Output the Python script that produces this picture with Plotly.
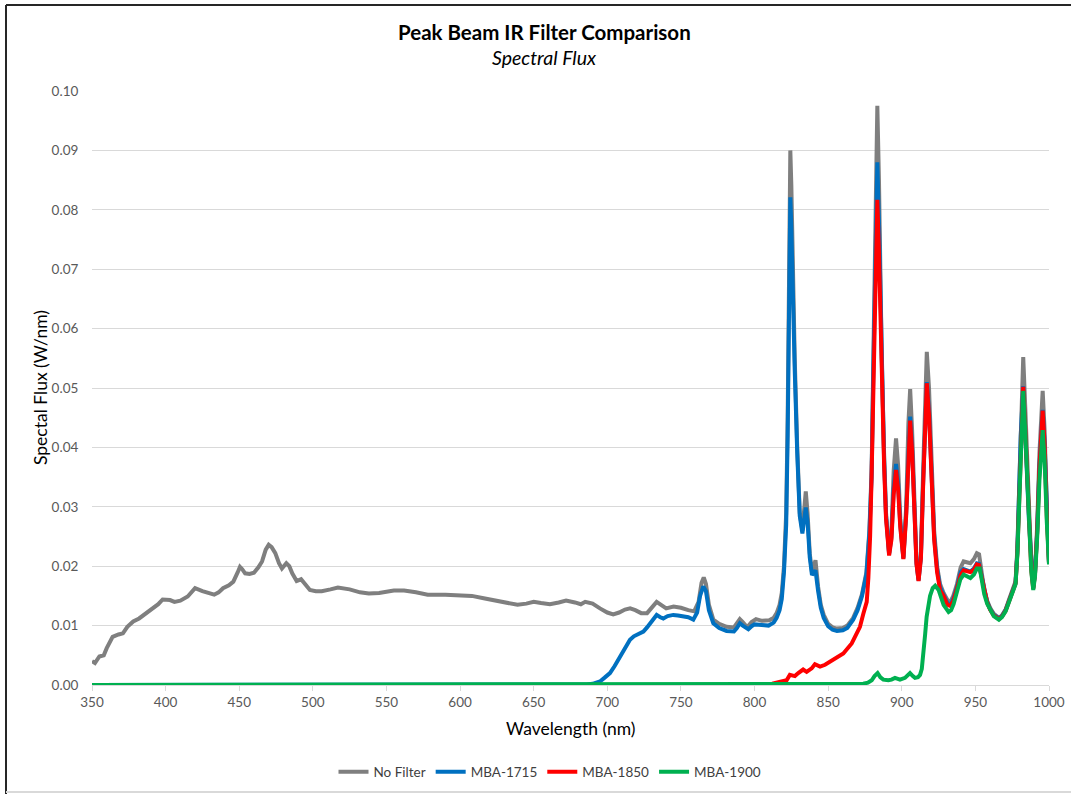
import plotly.graph_objects as go

# ---------------- data ----------------
nf_wl = [350, 352, 355, 358, 360, 364, 368, 371, 374, 378, 382, 387, 391, 395, 398, 403, 406, 410, 415, 420,
         425, 430, 433, 436, 439, 443, 446, 449, 450.5, 452, 454, 457, 460, 463, 465.5, 468, 470, 472, 474.5, 477,
         479, 482, 484, 486, 489, 492, 495, 498, 502, 506, 512, 517, 525, 532, 538, 545, 555, 562, 570, 578,
         590, 600, 608, 616, 625, 632, 639, 645, 650, 655, 661, 667, 672, 678, 682, 685, 690, 695, 700, 704,
         708, 712, 715.5, 719, 723, 727, 730, 733.5, 737, 740, 745, 750, 755, 759, 762, 764, 765.5, 767, 769, 772,
         776, 781, 786, 788, 790, 792, 795, 798, 801, 805, 810, 813, 815, 817, 818.5, 820, 821.5, 822.5, 823.5, 824.3,
         825, 826, 827.3, 829, 830.7, 832.5, 834.8, 836, 837.5, 839, 841.4, 843.2, 845, 847, 850, 853, 856, 860,
         863, 867, 870, 873, 876, 878, 879.5, 880.7, 882, 883.4, 884.5, 885.5, 886.4, 888, 889.3, 891.4, 893, 894.5,
         896.1, 897.5, 899, 901.1, 903, 904.5, 905.7, 907, 908.5, 910, 911.4, 913, 914.5, 916, 917, 918.5, 920, 922,
         924, 926, 928.4, 931, 933, 935, 937.5, 940, 942, 944, 946.6, 949, 951, 952.5, 954.5, 956, 958, 960,
         962.5, 966, 968, 970.5, 973, 975, 977.3, 978.5, 979.5, 980.8, 982.5, 984, 985.3, 986.4, 988, 989.3, 990.5, 992,
         993.5, 995.7, 997, 998.5, 1000]
nf_val = [0.0040, 0.0037, 0.0048, 0.0050, 0.0062, 0.0081, 0.0085, 0.0087, 0.0098, 0.0107, 0.0112, 0.0121, 0.0129, 0.0136, 0.0144, 0.0143, 0.0140, 0.0142, 0.0149, 0.0163,
          0.0158, 0.0155, 0.0152, 0.0156, 0.0163, 0.0168, 0.0174, 0.0190, 0.0199, 0.0195, 0.0188, 0.0187, 0.0189, 0.0198, 0.0208, 0.0228, 0.0236, 0.0232, 0.0222, 0.0205,
          0.0196, 0.0205, 0.0200, 0.0188, 0.0175, 0.0178, 0.0168, 0.0160, 0.0158, 0.0158, 0.0161, 0.0164, 0.0161, 0.0156, 0.0154, 0.0155, 0.0159, 0.0159, 0.0156, 0.0152,
          0.0152, 0.0151, 0.0150, 0.0146, 0.0142, 0.0138, 0.0135, 0.0137, 0.0140, 0.0138, 0.0136, 0.0139, 0.0142, 0.0139, 0.0136, 0.0140, 0.0137, 0.0129, 0.0122, 0.0119,
          0.0122, 0.0127, 0.0129, 0.0126, 0.0121, 0.0121, 0.0130, 0.0140, 0.0134, 0.0129, 0.0132, 0.0130, 0.0126, 0.0124, 0.0140, 0.0172, 0.0181, 0.0170, 0.0135, 0.0110,
          0.0103, 0.0098, 0.0097, 0.0103, 0.0111, 0.0106, 0.0097, 0.0106, 0.0111, 0.0108, 0.0109, 0.0113, 0.0121, 0.0135, 0.0155, 0.0200, 0.0290, 0.0450, 0.0700, 0.0900,
          0.0840, 0.0680, 0.0550, 0.0400, 0.0290, 0.0260, 0.0326, 0.0290, 0.0222, 0.0190, 0.0210, 0.0165, 0.0135, 0.0118, 0.0103, 0.0097, 0.0095, 0.0096,
          0.0100, 0.0113, 0.0130, 0.0153, 0.0190, 0.0260, 0.0360, 0.0550, 0.0800, 0.0975, 0.0850, 0.0680, 0.0550, 0.0390, 0.0290, 0.0222, 0.0260, 0.0360,
          0.0415, 0.0370, 0.0280, 0.0215, 0.0300, 0.0440, 0.0498, 0.0430, 0.0300, 0.0210, 0.0178, 0.0220, 0.0360, 0.0520, 0.0561, 0.0500, 0.0380, 0.0260,
          0.0200, 0.0170, 0.0155, 0.0143, 0.0140, 0.0150, 0.0170, 0.0198, 0.0208, 0.0207, 0.0205, 0.0212, 0.0222, 0.0220, 0.0185, 0.0160, 0.0142, 0.0130,
          0.0120, 0.0113, 0.0117, 0.0127, 0.0145, 0.0160, 0.0175, 0.0230, 0.0320, 0.0450, 0.0552, 0.0460, 0.0360, 0.0286, 0.0200, 0.0165, 0.0190, 0.0270,
          0.0390, 0.0495, 0.0430, 0.0300, 0.0206]

b_wl = [350, 680, 686, 690, 695, 698, 701.8, 705, 708.6, 712, 715.4, 718, 720, 722, 724.5, 727, 729, 731.5, 733.5, 736,
        738, 741, 744.8, 748, 751.6, 755, 758.4, 761, 763, 765.2, 767, 769, 772, 776, 781, 786, 788, 790, 792, 795.8,
        798, 800, 805, 809.5, 813, 815, 817, 818.5, 820, 821.5, 822.5, 823.5, 824.3, 825, 826, 827.3, 829, 830.7, 832.5, 834.8,
        836, 837.5, 839, 841.4, 843.2, 845, 847, 850, 853, 856, 860, 863, 867, 870, 873, 876, 878, 879.5, 880.7, 882,
        883.4, 884.5, 885.5, 886.4, 888, 889.3, 891.4, 893, 894.5, 896.1, 897.5, 899, 901.1, 903, 904.5, 905.7, 907, 908.5, 910, 911.4,
        913, 914.5, 916, 917, 918.5, 920, 922, 924, 926, 928.4, 931, 933, 935, 937.5, 940, 942, 944, 946.6, 949, 951,
        952.5, 954.5, 956, 958, 960, 962.5, 966, 968, 970.5, 973, 975, 977.3, 978.5, 979.5, 980.8, 982.5, 984, 985.3, 986.4, 988,
        989.3, 990.5, 992, 993.5, 995.7, 997, 998.5, 1000]
b_val = [0.0, 0.0, 0.0001, 0.0002, 0.0006, 0.0012, 0.0020, 0.0032, 0.0048, 0.0062, 0.0076, 0.0082, 0.0084, 0.0086, 0.0090, 0.0097, 0.0104, 0.0112, 0.0118, 0.0114,
         0.0112, 0.0116, 0.0118, 0.0117, 0.0116, 0.0114, 0.0110, 0.0122, 0.0150, 0.0166, 0.0158, 0.0126, 0.0104, 0.0096, 0.0091, 0.0090, 0.0096, 0.0104, 0.0100, 0.0094,
         0.0099, 0.0102, 0.0101, 0.0100, 0.0105, 0.0113, 0.0126, 0.0145, 0.0190, 0.0270, 0.0420, 0.0650, 0.0821, 0.0770, 0.0640, 0.0530, 0.0390, 0.0285, 0.0255, 0.0299,
         0.0275, 0.0215, 0.0185, 0.0193, 0.0158, 0.0130, 0.0113, 0.0099, 0.0093, 0.0091, 0.0092, 0.0096, 0.0110, 0.0126, 0.0150, 0.0186, 0.0255, 0.0350, 0.0530, 0.0740,
         0.0880, 0.0780, 0.0640, 0.0530, 0.0380, 0.0285, 0.0220, 0.0250, 0.0330, 0.0372, 0.0340, 0.0270, 0.0213, 0.0290, 0.0410, 0.0452, 0.0400, 0.0290, 0.0205, 0.0176,
         0.0215, 0.0340, 0.0475, 0.0510, 0.0460, 0.0360, 0.0250, 0.0195, 0.0165, 0.0152, 0.0138, 0.0135, 0.0145, 0.0165, 0.0190, 0.0195, 0.0193, 0.0191, 0.0196, 0.0205,
         0.0204, 0.0180, 0.0157, 0.0140, 0.0128, 0.0118, 0.0112, 0.0116, 0.0126, 0.0143, 0.0158, 0.0172, 0.0225, 0.0310, 0.0420, 0.0503, 0.0430, 0.0340, 0.0275, 0.0195,
         0.0163, 0.0188, 0.0260, 0.0370, 0.0463, 0.0410, 0.0290, 0.0205]

r_wl = [350, 800, 812, 817.3, 820, 821.8, 824, 827.4, 829.7, 833, 835.4, 838.8, 841, 844.5, 847.9, 853.5, 860.3, 866, 869.3, 871.6,
        873.9, 876.2, 877.3, 878.5, 879.5, 880.7, 882, 883.4, 884.5, 885.5, 886.4, 888, 889.3, 891.4, 893, 894.5, 896.1, 897.5, 899, 901.1,
        903, 904.5, 905.7, 907, 908.5, 910, 911.4, 913, 914.5, 916, 917, 918.5, 920, 922, 924, 926, 928.4, 931, 933, 935,
        937.5, 940, 942, 944, 946.6, 949, 951, 952.5, 954.5, 956, 958, 960, 962.5, 966, 968, 970.5, 973, 975, 977.3, 978.5,
        979.5, 980.8, 982.5, 984, 985.3, 986.4, 988, 989.3, 990.5, 992, 993.5, 995.7, 997, 998.5, 1000]
r_val = [0.0, 0.0, 0.0002, 0.0005, 0.0006, 0.0008, 0.0017, 0.0015, 0.0020, 0.0026, 0.0022, 0.0028, 0.0035, 0.0031, 0.0034, 0.0042, 0.0053, 0.0070, 0.0086, 0.0098,
         0.0120, 0.0140, 0.0180, 0.0250, 0.0350, 0.0510, 0.0700, 0.0817, 0.0730, 0.0610, 0.0520, 0.0370, 0.0280, 0.0218, 0.0245, 0.0320, 0.0362, 0.0330, 0.0265, 0.0212,
         0.0285, 0.0400, 0.0445, 0.0395, 0.0285, 0.0203, 0.0175, 0.0213, 0.0335, 0.0470, 0.0508, 0.0455, 0.0355, 0.0245, 0.0190, 0.0160, 0.0150, 0.0135, 0.0133, 0.0142,
         0.0162, 0.0185, 0.0193, 0.0191, 0.0190, 0.0194, 0.0203, 0.0202, 0.0178, 0.0155, 0.0139, 0.0127, 0.0117, 0.0111, 0.0115, 0.0125, 0.0142, 0.0157, 0.0171, 0.0222,
         0.0305, 0.0415, 0.0502, 0.0425, 0.0335, 0.0272, 0.0193, 0.0162, 0.0187, 0.0258, 0.0365, 0.0462, 0.0405, 0.0285, 0.0205]

g_wl = [350, 870, 873.9, 877, 879.6, 881.5, 883.6, 885.5, 887.5, 890.9, 893, 895.4, 898.8, 902.2, 905.6, 907.5, 909, 911, 912.4, 913.6,
        914.6, 915.9, 916.9, 919.2, 921, 922.7, 925, 926.5, 928.4, 931.8, 933.5, 935.2, 937.5, 939.8, 942, 944, 946.6, 949, 951, 953,
        954.5, 956, 958, 960, 962.5, 966, 968, 970.5, 973, 975, 977.3, 978.5, 979.5, 980.8, 982.5, 984, 985.3, 986.4, 988, 989.3,
        990.5, 992, 993.5, 995.7, 997, 998.5, 1000]
g_val = [0.0, 0.0001, 0.0002, 0.0004, 0.0008, 0.0015, 0.0020, 0.0013, 0.0009, 0.0008, 0.0009, 0.0012, 0.0009, 0.0012, 0.0020, 0.0015, 0.0012, 0.0013, 0.0017, 0.0027,
         0.0048, 0.0086, 0.0115, 0.0150, 0.0163, 0.0167, 0.0160, 0.0148, 0.0135, 0.0123, 0.0126, 0.0136, 0.0155, 0.0178, 0.0186, 0.0184, 0.0180, 0.0186, 0.0196, 0.0196,
         0.0175, 0.0153, 0.0137, 0.0126, 0.0116, 0.0110, 0.0114, 0.0124, 0.0141, 0.0156, 0.0170, 0.0220, 0.0300, 0.0410, 0.0495, 0.0420, 0.0330, 0.0268, 0.0190, 0.0160,
         0.0183, 0.0250, 0.0345, 0.0429, 0.0380, 0.0275, 0.0203]

series = [
    ("No Filter", nf_wl, nf_val, "#7f7f7f"),
    ("MBA-1715", b_wl, b_val, "#0070c0"),
    ("MBA-1850", r_wl, r_val, "#ff0000"),
    ("MBA-1900", g_wl, g_val, "#00b050"),
]

x_ticks = [350, 400, 450, 500, 550, 600, 650, 700, 750, 800, 850, 900, 950, 1000]
y_ticks = [0.00, 0.01, 0.02, 0.03, 0.04, 0.05, 0.06, 0.07, 0.08, 0.09, 0.10]

# ---------------- figure ----------------
FONT = "Lato, 'Open Sans', sans-serif"
fig = go.Figure()
for name, xs, ys, col in series:
    fig.add_trace(go.Scatter(x=xs, y=ys, name=name, mode="lines",
                             line=dict(color=col, width=4), hoverinfo="x+y+name"))

L, R, T, B = 92, 22, 91, 109
W, H = 1071, 794
pw, ph = W - L - R, H - T - B

def px(x):
    return (x - L) / pw

def py(y):
    return (H - B - y) / ph

fig.update_layout(
    width=W, height=H,
    margin=dict(l=L, r=R, t=T, b=B, autoexpand=False),
    paper_bgcolor="white", plot_bgcolor="white",
    font=dict(family=FONT, color="#595959", size=13),
    showlegend=True,
    legend=dict(orientation="h", x=px(550), xanchor="center", y=py(772), yanchor="middle",
                font=dict(size=13.5, color="#404040"), itemwidth=30, tracegroupgap=0,
                bgcolor="rgba(0,0,0,0)"),
    xaxis=dict(range=[350, 1000], tickvals=x_ticks, ticktext=[str(v) for v in x_ticks],
               showgrid=False, zeroline=False, showline=True, linecolor="#d9d9d9", linewidth=1,
               ticks="outside", ticklen=5, tickcolor="#d9d9d9",
               tickfont=dict(size=13.5, color="#595959")),
    yaxis=dict(range=[0, 0.1], tickvals=y_ticks, ticktext=[f"{v:.2f}" for v in y_ticks],
               showgrid=True, gridcolor="#d9d9d9", gridwidth=1, zeroline=False,
               ticks="outside", ticklen=10, tickcolor="rgba(0,0,0,0)",
               tickfont=dict(size=13.5, color="#595959")),
    annotations=[
        dict(text="<b>Peak Beam IR Filter Comparison</b>", xref="paper", yref="paper",
             x=px(544), y=py(32), xanchor="center", yanchor="middle", showarrow=False,
             font=dict(size=20.5, color="#000000", family=FONT)),
        dict(text="<i>Spectral Flux</i>", xref="paper", yref="paper",
             x=px(544), y=py(58), xanchor="center", yanchor="middle", showarrow=False,
             font=dict(size=19.5, color="#000000", family=FONT)),
        dict(text="Wavelength (nm)", xref="paper", yref="paper",
             x=px(570), y=py(728), xanchor="center", yanchor="middle", showarrow=False,
             font=dict(size=17.5, color="#000000", family=FONT)),
        dict(text="Spectal Flux (W/nm)", xref="paper", yref="paper", textangle=-90,
             x=px(40), y=py(388), xanchor="center", yanchor="middle", showarrow=False,
             font=dict(size=17.5, color="#000000", family=FONT)),
    ],
    shapes=[
        dict(type="line", xref="paper", yref="paper", x0=px(6), x1=px(1071), y0=py(5), y1=py(5),
             line=dict(color="#262626", width=2)),
        dict(type="line", xref="paper", yref="paper", x0=px(6), x1=px(6), y0=py(5), y1=py(794),
             line=dict(color="#262626", width=2)),
        dict(type="line", xref="paper", yref="paper", x0=px(6), x1=px(1071), y0=py(792), y1=py(792),
             line=dict(color="#d9d9d9", width=2)),
    ],
)

fig.write_html("out.html", config={"displayModeBar": False},
               post_script="document.body.style.margin='0px';document.body.style.overflow='hidden';")
